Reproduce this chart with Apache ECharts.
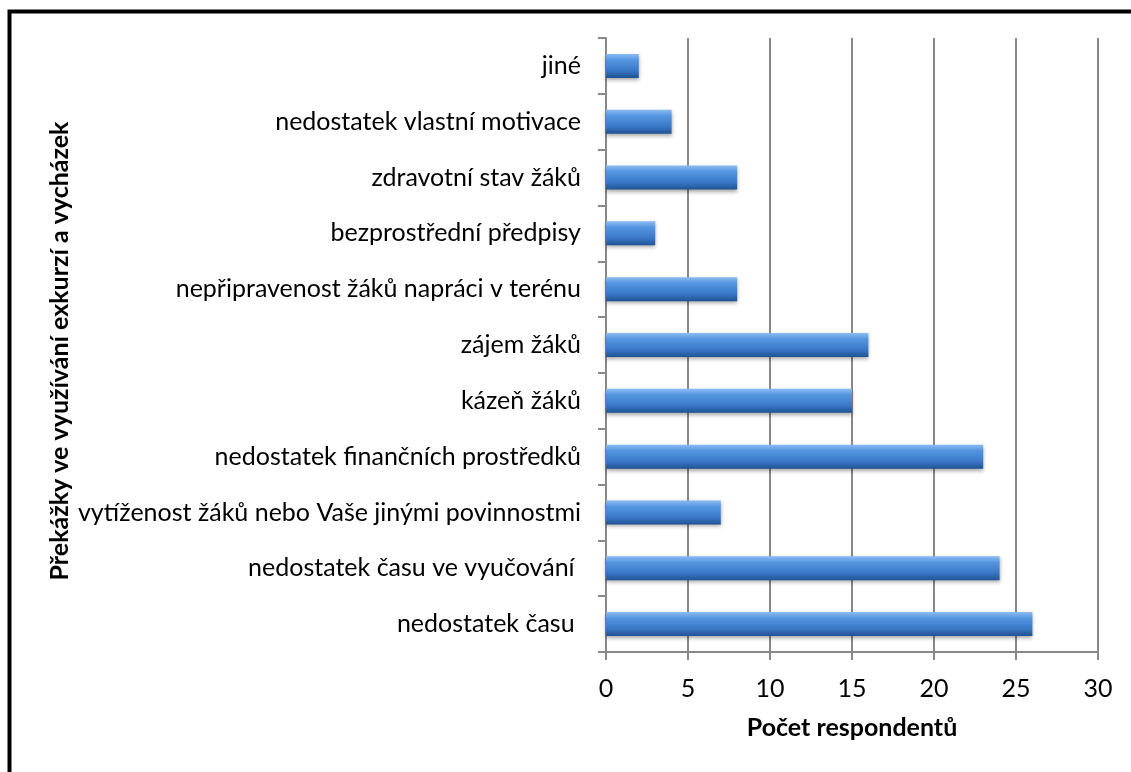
<!DOCTYPE html>
<html>
<head>
<meta charset="utf-8">
<script src="https://cdn.jsdelivr.net/npm/echarts@6/dist/echarts.min.js"></script>
<style>
  html, body { margin: 0; padding: 0; background: #fff; }
  #chart { width: 1131px; height: 772px; }
</style>
</head>
<body>
<div id="chart"></div>
<script>
// kategorie odspodu nahoru (jak je kreslí osa)
const categories = [
    'nedostatek času ',
    'nedostatek času ve vyučování ',
    'vytíženost žáků nebo Vaše jinými povinnostmi',
    'nedostatek finančních prostředků',
    'kázeň žáků',
    'zájem žáků',
    'nepřipravenost žáků napráci v terénu',
    'bezprostřední předpisy',
    'zdravotní stav žáků',
    'nedostatek vlastní motivace',
    'jiné'
];
const respondents = [26, 24, 7, 23, 15, 16, 8, 3, 8, 4, 2];
const xTicks = { min: 0, max: 30, interval: 5 };

let chart = echarts.init(document.getElementById('chart'));

const font = 'Lato, "Open Sans", sans-serif';

let option = {
    animation: false,
    backgroundColor: '#fff',
    grid: { left: 606, right: 33, top: 38, bottom: 120 },
    graphic: [
        // rámeček vlevo a nahoře
        { type: 'rect', shape: { x: 9.5, y: 11.5, width: 1130, height: 800 },
          style: { fill: 'none', stroke: '#000', lineWidth: 4 } },
        { type: 'text', x: 60, y: 351, rotation: Math.PI / 2,
          style: { text: 'Překážky ve využívání exkurzí a vycházek', font: 'bold 25px ' + font,
                   fill: '#000', align: 'center', verticalAlign: 'middle' } }
    ],
    xAxis: {
        type: 'value',
        min: xTicks.min, max: xTicks.max, interval: xTicks.interval,
        name: 'Počet respondentů',
        nameLocation: 'middle',
        nameGap: 63,
        nameTextStyle: { fontFamily: font, fontWeight: 'bold', fontSize: 25, color: '#000' },
        axisLine: { show: true, lineStyle: { color: '#888', width: 2 } },
        axisTick: { show: true, length: 8, lineStyle: { color: '#888', width: 2 } },
        axisLabel: { fontFamily: font, fontSize: 25, color: '#000', margin: 24 },
        splitLine: { show: true, lineStyle: { color: '#888', width: 2 } }
    },
    yAxis: {
        type: 'category',
        data: categories,
        axisLine: { show: true, lineStyle: { color: '#888', width: 2 } },
        axisTick: { show: true, length: 8, lineStyle: { color: '#888', width: 2 } },
        axisLabel: { fontFamily: font, fontSize: 25, color: '#000', margin: 25 }
    },
    series: [{
        type: 'bar',
        data: respondents,
        barWidth: 24,
        itemStyle: {
            color: new echarts.graphic.LinearGradient(0, 0, 0, 1, [
                { offset: 0, color: '#8cbcf2' },
                { offset: 0.25, color: '#5596e0' },
                { offset: 0.7, color: '#3a78c6' },
                { offset: 1, color: '#1f5293' }
            ]),
            shadowColor: 'rgba(0,0,0,0.35)',
            shadowBlur: 4,
            shadowOffsetY: 2
        }
    }]
};

chart.setOption(option);
</script>
</body>
</html>
